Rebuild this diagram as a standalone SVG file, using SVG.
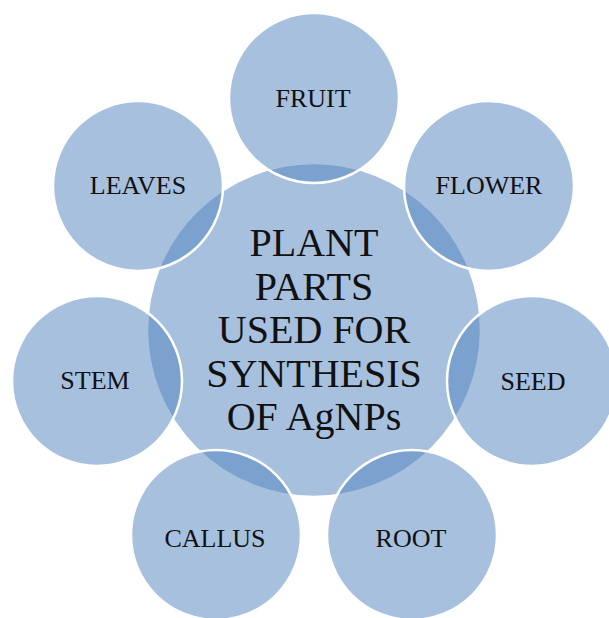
<svg xmlns="http://www.w3.org/2000/svg" width="609" height="618" viewBox="0 0 609 618">
<style>
.c{fill:#4f81bd;fill-opacity:0.5;stroke:#ffffff;stroke-width:2.5}
.t{font-family:"Liberation Serif","Times New Roman",serif;fill:#111111;text-anchor:middle}
.s{font-size:26px}
.b{font-size:40px}
</style>
<rect width="609" height="618" fill="#ffffff"/>
<g id="center">
<circle class="c" cx="314" cy="330" r="167"/>
<text class="t b" x="314" y="256">PLANT</text>
<text class="t b" x="314" y="299.5">PARTS</text>
<text class="t b" x="314" y="343">USED FOR</text>
<text class="t b" x="314" y="386.5">SYNTHESIS</text>
<text class="t b" x="314" y="430">OF AgNPs</text>
</g>
<g id="fruit"><circle class="c" cx="314" cy="98" r="85"/><text class="t s" x="313" y="107">FRUIT</text></g>
<g id="flower"><circle class="c" cx="489" cy="186" r="85"/><text class="t s" x="489" y="194">FLOWER</text></g>
<g id="seed"><circle class="c" cx="532" cy="381" r="85"/><text class="t s" x="533" y="390">SEED</text></g>
<g id="root"><circle class="c" cx="412" cy="535" r="85"/><text class="t s" x="411" y="547">ROOT</text></g>
<g id="callus"><circle class="c" cx="216" cy="535" r="85"/><text class="t s" x="215" y="547">CALLUS</text></g>
<g id="stem"><circle class="c" cx="97" cy="381" r="85"/><text class="t s" x="95" y="389">STEM</text></g>
<g id="leaves"><circle class="c" cx="138" cy="186" r="85"/><text class="t s" x="138" y="194">LEAVES</text></g>
<g id="connectors"></g>
</svg>
